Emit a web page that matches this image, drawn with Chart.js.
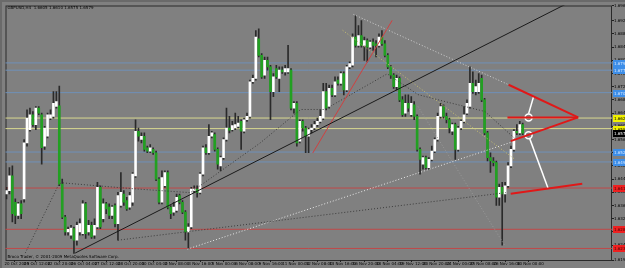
<!DOCTYPE html>
<html>
<head>
<meta charset="utf-8">
<script src="https://cdn.jsdelivr.net/npm/chart.js@4.4.1/dist/chart.umd.min.js"></script>
<style>
  html, body { margin: 0; padding: 0; background: #808080; overflow: hidden; }
  canvas { display: block; }
</style>
</head>
<body>
<canvas id="chart" width="625" height="268"></canvas>
<script>
const symbolTitle = 'GBPUSD,H4';
const copyrightText = 'Broco Trader, \u00a9 2001-2009 MetaQuotes Software Corp.';

// H4 candles, oldest first
const openPrice = [
  1.6395,1.6405,1.6450,1.6370,1.6330,1.6365,1.6380,1.6550,1.6590,1.6635,
  1.6605,1.6655,1.6635,1.6540,1.6570,1.6625,1.6630,1.6660,1.6662,1.6425,
  1.6325,1.6280,1.6270,1.6290,1.6255,1.6280,1.6275,1.6365,1.6280,1.6300,
  1.6270,1.6295,1.6415,1.6320,1.6365,1.6355,1.6330,1.6360,1.6305,1.6360,
  1.6395,1.6375,1.6355,1.6370,1.6450,1.6585,1.6560,1.6570,1.6535,1.6525,
  1.6530,1.6520,1.6440,1.6370,1.6420,1.6460,1.6355,1.6340,1.6345,1.6390,
  1.6370,1.6340,1.6280,1.6295,1.6405,1.6410,1.6400,1.6455,1.6535,1.6520,
  1.6570,1.6575,1.6530,1.6480,1.6505,1.6560,1.6595,1.6590,1.6595,1.6600,
  1.6615,1.6585,1.6620,1.6630,1.6735,1.6745,1.6865,1.6815,1.6755,1.6800,
  1.6780,1.6705,1.6775,1.6745,1.6770,1.6765,1.6765,1.6770,1.6655,1.6670,
  1.6555,1.6615,1.6595,1.6570,1.6590,1.6595,1.6605,1.6615,1.6625,1.6705,
  1.6660,1.6715,1.6695,1.6740,1.6730,1.6760,1.6710,1.6780,1.6785,1.6870,
  1.6845,1.6875,1.6845,1.6860,1.6840,1.6855,1.6850,1.6845,1.6870,1.6850,
  1.6815,1.6780,1.6755,1.6720,1.6745,1.6680,1.6640,1.6670,1.6635,1.6665,
  1.6630,1.6530,1.6485,1.6505,1.6475,1.6500,1.6525,1.6560,1.6630,1.6660,
  1.6630,1.6620,1.6585,1.6605,1.6530,1.6595,1.6615,1.6640,1.6660,1.6730,
  1.6705,1.6705,1.6745,1.6680,1.6580,1.6505,1.6495,1.6490,1.6385,1.6415,
  1.6395,1.6420,1.6480,1.6530,1.6585,1.6580,1.6605
];
const highPrice = [
  1.6415,1.6475,1.6480,1.6380,1.6370,1.6375,1.6560,1.6650,1.6655,1.6645,
  1.6660,1.6660,1.6640,1.6600,1.6640,1.6650,1.6705,1.6705,1.6722,1.6440,
  1.6330,1.6295,1.6300,1.6295,1.6310,1.6320,1.6375,1.6370,1.6315,1.6310,
  1.6320,1.6430,1.6420,1.6380,1.6370,1.6365,1.6360,1.6365,1.6400,1.6460,
  1.6405,1.6385,1.6400,1.6460,1.6620,1.6595,1.6580,1.6580,1.6540,1.6545,
  1.6535,1.6525,1.6445,1.6465,1.6465,1.6465,1.6360,1.6370,1.6395,1.6395,
  1.6375,1.6345,1.6305,1.6415,1.6420,1.6420,1.6460,1.6540,1.6545,1.6605,
  1.6585,1.6580,1.6535,1.6510,1.6565,1.6655,1.6630,1.6615,1.6640,1.6630,
  1.6620,1.6625,1.6640,1.6740,1.6755,1.6890,1.6895,1.6820,1.6810,1.6810,
  1.6785,1.6760,1.6785,1.6780,1.6780,1.6785,1.6845,1.6775,1.6675,1.6675,
  1.6620,1.6620,1.6600,1.6595,1.6605,1.6615,1.6625,1.6650,1.6730,1.6730,
  1.6725,1.6725,1.6750,1.6750,1.6765,1.6765,1.6785,1.6795,1.6880,1.6935,
  1.6905,1.6920,1.6870,1.6865,1.6860,1.6865,1.6860,1.6880,1.6890,1.6860,
  1.6820,1.6785,1.6760,1.6755,1.6750,1.6690,1.6695,1.6695,1.6690,1.6675,
  1.6635,1.6535,1.6510,1.6510,1.6505,1.6540,1.6565,1.6640,1.6670,1.6665,
  1.6640,1.6625,1.6610,1.6610,1.6600,1.6620,1.6660,1.6680,1.6780,1.6765,
  1.6740,1.6760,1.6755,1.6685,1.6585,1.6520,1.6505,1.6495,1.6425,1.6430,
  1.6430,1.6490,1.6540,1.6590,1.6605,1.6615,1.6610
];
const lowPrice = [
  1.6380,1.6395,1.6310,1.6305,1.6320,1.6320,1.6370,1.6540,1.6585,1.6600,
  1.6590,1.6635,1.6485,1.6530,1.6565,1.6620,1.6625,1.6655,1.6420,1.6320,
  1.6270,1.6270,1.6260,1.6215,1.6240,1.6270,1.6270,1.6260,1.6270,1.6260,
  1.6260,1.6290,1.6290,1.6310,1.6335,1.6320,1.6320,1.6295,1.6255,1.6355,
  1.6360,1.6345,1.6348,1.6360,1.6445,1.6555,1.6550,1.6525,1.6520,1.6520,
  1.6515,1.6435,1.6365,1.6365,1.6415,1.6350,1.6320,1.6330,1.6340,1.6365,
  1.6335,1.6255,1.6230,1.6290,1.6400,1.6385,1.6395,1.6450,1.6515,1.6515,
  1.6565,1.6525,1.6470,1.6465,1.6500,1.6555,1.6580,1.6585,1.6590,1.6595,
  1.6530,1.6580,1.6615,1.6625,1.6730,1.6740,1.6810,1.6745,1.6745,1.6770,
  1.6620,1.6690,1.6745,1.6705,1.6760,1.6755,1.6760,1.6650,1.6640,1.6540,
  1.6550,1.6585,1.6520,1.6520,1.6580,1.6590,1.6600,1.6610,1.6620,1.6650,
  1.6655,1.6690,1.6690,1.6725,1.6725,1.6695,1.6705,1.6775,1.6780,1.6840,
  1.6840,1.6840,1.6800,1.6795,1.6835,1.6830,1.6810,1.6840,1.6845,1.6810,
  1.6775,1.6745,1.6715,1.6710,1.6675,1.6630,1.6630,1.6645,1.6630,1.6620,
  1.6525,1.6455,1.6470,1.6470,1.6470,1.6495,1.6520,1.6555,1.6625,1.6625,
  1.6610,1.6580,1.6575,1.6500,1.6525,1.6590,1.6610,1.6635,1.6655,1.6700,
  1.6695,1.6700,1.6675,1.6575,1.6495,1.6460,1.6480,1.6360,1.6360,1.6240,
  1.6370,1.6415,1.6475,1.6525,1.6575,1.6575,1.6575
];
const closePrice = [
  1.6405,1.6450,1.6335,1.6330,1.6365,1.6335,1.6550,1.6625,1.6635,1.6605,
  1.6655,1.6640,1.6535,1.6595,1.6635,1.6635,1.6670,1.6675,1.6425,1.6325,
  1.6280,1.6288,1.6292,1.6255,1.6300,1.6305,1.6365,1.6275,1.6300,1.6265,
  1.6300,1.6415,1.6295,1.6365,1.6350,1.6330,1.6355,1.6305,1.6390,1.6400,
  1.6370,1.6350,1.6390,1.6455,1.6585,1.6570,1.6570,1.6530,1.6525,1.6535,
  1.6520,1.6440,1.6370,1.6445,1.6460,1.6355,1.6335,1.6355,1.6385,1.6370,
  1.6340,1.6280,1.6295,1.6410,1.6410,1.6400,1.6455,1.6535,1.6520,1.6570,
  1.6580,1.6530,1.6485,1.6505,1.6560,1.6595,1.6588,1.6602,1.6605,1.6610,
  1.6585,1.6620,1.6630,1.6735,1.6745,1.6870,1.6815,1.6750,1.6800,1.6780,
  1.6705,1.6750,1.6750,1.6770,1.6765,1.6775,1.6775,1.6655,1.6670,1.6550,
  1.6615,1.6595,1.6570,1.6590,1.6595,1.6605,1.6615,1.6630,1.6705,1.6655,
  1.6715,1.6695,1.6735,1.6730,1.6760,1.6710,1.6780,1.6790,1.6870,1.6845,
  1.6875,1.6845,1.6860,1.6840,1.6855,1.6845,1.6845,1.6870,1.6850,1.6815,
  1.6780,1.6755,1.6720,1.6745,1.6680,1.6635,1.6670,1.6655,1.6670,1.6630,
  1.6530,1.6500,1.6505,1.6475,1.6500,1.6525,1.6560,1.6630,1.6660,1.6630,
  1.6620,1.6595,1.6605,1.6530,1.6595,1.6615,1.6635,1.6670,1.6730,1.6705,
  1.6720,1.6730,1.6680,1.6580,1.6505,1.6495,1.6490,1.6385,1.6415,1.6395,
  1.6420,1.6480,1.6530,1.6585,1.6580,1.6605,1.6579
];

// time axis: bar index of each label and its text
const timeLabelBars = [-0.7, 6, 14, 22, 30, 38, 46, 54, 62, 70, 78, 86, 94, 102, 110, 118, 126, 134, 142, 150, 158, 166, 174];
const timeLabels = ['20 Oct 2009','21 Oct 12:00','22 Oct 20:00','26 Oct 04:00','27 Oct 12:00','28 Oct 20:00',
  '30 Oct 04:00','2 Nov 08:00','3 Nov 16:00','5 Nov 00:00','6 Nov 08:00','9 Nov 16:00','11 Nov 00:00',
  '12 Nov 08:00','13 Nov 16:00','16 Nov 20:00','18 Nov 04:00','19 Nov 12:00','20 Nov 20:00','24 Nov 00:00',
  '25 Nov 08:00','26 Nov 16:00','30 Nov 00:00'];

// horizontal levels
const blueLevels = [1.6792, 1.6770, 1.6702, 1.6522, 1.6492];
const yellowLevels = [1.6625, 1.6593];
const redLevels = [1.6413, 1.6288, 1.6230];

// drawn objects: [barFrom, priceFrom, barTo, priceTo]
const blackTrend = [[23.4, 1.6216, 206.4, 1.7041]];
const whiteDotted = [[61.7, 1.6228, 173.2, 1.6555]];
const darkDotted = [[38, 1.6255, 170.2, 1.6399]];
const redThin = [[104.4, 1.6519, 131.5, 1.6921]];
const lightDotted = [[118.3, 1.6939, 171.2, 1.6726]];
const yellowDotted = [[114.6, 1.6891, 173.2, 1.6501]];
const faintDotted = [[140.3, 1.6660, 169.8, 1.6240]];
const redPitch = [
  [171.2, 1.6726, 194.9, 1.6627],
  [170.8, 1.6627, 194.9, 1.6627],
  [171.9, 1.6555, 194.9, 1.6627],
  [171.9, 1.6396, 196.3, 1.6426]
];
const whiteLinks = [[179.7, 1.6690, 178, 1.6638], [178.3, 1.6565, 184.7, 1.6411]];
const circleBars = [178, 178];
const circlePrices = [1.6627, 1.6573];

// dotted swing line
const swingBars = [6.4, 17.6, 18.6, 43.1, 62.7, 86.4, 100.3, 108.5, 129.8, 140.3, 149.5, 156.3, 163.1, 173.2];
const swingPrices = [1.6216, 1.6420, 1.6429, 1.6411, 1.6399, 1.6549, 1.6651, 1.6651, 1.6759, 1.6696, 1.6675, 1.6660, 1.6645, 1.6564];

const bullColor = '#ffffff';
const bearColor = '#22a022';
const wickColor = '#2a2a2a';

const bars = openPrice.map((_, i) => i);
const isBull = bars.map(i => closePrice[i] >= openPrice[i]);

function segmentSets(list, color, width, dash, order) {
  return list.map(s => ({
    type: 'line',
    data: [{ x: s[0], y: s[1] }, { x: s[2], y: s[3] }],
    borderColor: color,
    borderWidth: width,
    borderDash: dash,
    pointRadius: 0,
    fill: false,
    order
  }));
}

function levelSets(levels, color) {
  return levels.map(p => ({
    type: 'line',
    data: [{ x: -5, y: p }, { x: 215, y: p }],
    borderColor: color,
    borderWidth: 1,
    pointRadius: 0,
    fill: false,
    order: 5
  }));
}

const datasets = [
  ...levelSets(blueLevels, '#6f90b8'),
  ...levelSets(yellowLevels, '#d8d890'),
  ...levelSets(redLevels, '#c04848'),
  {
    type: 'bar',
    data: bars.map(i => ({ x: i, y: [lowPrice[i], highPrice[i]] })),
    backgroundColor: wickColor,
    barThickness: 1,
    grouped: false,
    minBarLength: 1,
    order: 3
  },
  {
    type: 'bar',
    data: bars.map(i => ({ x: i, y: [openPrice[i], closePrice[i]] })),
    backgroundColor: bars.map(i => isBull[i] ? bullColor : bearColor),
    barThickness: 2,
    grouped: false,
    minBarLength: 1,
    order: 2
  },
  {
    type: 'line',
    data: swingBars.map((b, i) => ({ x: b, y: swingPrices[i] })),
    borderColor: '#3c3c3c',
    borderWidth: 1,
    borderDash: [1, 2],
    pointRadius: 0,
    fill: false,
    order: 1
  },
  ...segmentSets(darkDotted, '#3c3c3c', 1, [1, 2], 1),
  ...segmentSets(faintDotted, '#9a9a9a', 1, [1, 2], 1),
  ...segmentSets(whiteDotted, '#e8e8e8', 1, [1, 2], 1),
  ...segmentSets(lightDotted, '#d0d0d0', 1, [1, 2], 1),
  ...segmentSets(yellowDotted, '#c8c070', 1, [1, 2], 1),
  ...segmentSets(blackTrend, '#1a1a1a', 1, [], 0),
  ...segmentSets(redThin, '#d04040', 1, [], 0),
  ...segmentSets(redPitch, '#e01818', 2, [], 0),
  ...segmentSets(whiteLinks, '#ffffff', 1.5, [], 0),
  {
    type: 'scatter',
    data: circleBars.map((b, i) => ({ x: b, y: circlePrices[i] })),
    pointStyle: 'circle',
    pointRadius: 3.5,
    pointBorderWidth: 1.5,
    pointBorderColor: '#ffffff',
    pointBackgroundColor: 'rgba(0,0,0,0)',
    order: 0
  }
];

const mtFrame = {
  id: 'mtFrame',
  beforeDraw(chart) {
    const c = chart.ctx;
    const a = chart.chartArea;
    c.save();
    c.fillStyle = '#808080';
    c.fillRect(0, 0, chart.width, chart.height);
    c.fillStyle = '#6a6a6a';
    c.fillRect(0, 0, chart.width, 2);
    c.fillRect(0, 0, 2, chart.height);
    c.strokeStyle = '#2a2a2a';
    c.lineWidth = 1;
    c.strokeRect(a.left + 0.5, a.top + 0.5, a.right - a.left - 1, a.bottom - a.top);
    c.restore();
  },
  afterDraw(chart) {
    const c = chart.ctx;
    const a = chart.chartArea;
    const y = chart.scales.y;
    c.save();
    c.font = '4px "DejaVu Sans"';
    c.textBaseline = 'middle';
    c.textAlign = 'left';
    const tag = (p, fill, ink) => {
      const py = Math.round(y.getPixelForValue(p));
      c.fillStyle = fill;
      c.fillRect(a.right + 1, py - 3, chart.width - a.right - 1, 7);
      c.fillStyle = ink;
      c.fillText(p.toFixed(4), a.right + 2, py + 0.5);
    };
    blueLevels.forEach(p => tag(p, '#3d8ee8', '#d8e8ff'));
    yellowLevels.forEach(p => tag(p, '#f0f000', '#000000'));
    redLevels.forEach(p => tag(p, '#ee2020', '#400000'));
    const last = closePrice.length - 1;
    tag(closePrice[last], '#000000', '#ffffff');

    c.fillStyle = '#000000';
    c.textBaseline = 'top';
    c.fillText(`${symbolTitle}  ${openPrice[last].toFixed(4)} ${highPrice[last].toFixed(4)} ${lowPrice[last].toFixed(4)} ${closePrice[last].toFixed(4)}`, a.left + 2, a.top);
    c.textBaseline = 'bottom';
    c.fillText(copyrightText, a.left + 2, a.bottom - 1);
    c.restore();
  }
};

new Chart(document.getElementById('chart'), {
  type: 'bar',
  data: { datasets },
  plugins: [mtFrame],
  options: {
    responsive: false,
    animation: false,
    layout: { padding: { top: 3, left: 2, right: 0, bottom: 0 } },
    plugins: { legend: { display: false }, tooltip: { enabled: false } },
    scales: {
      x: {
        type: 'linear',
        min: -0.34,
        max: 206.44,
        offset: false,
        grid: { display: true, drawOnChartArea: false, drawTicks: true, tickLength: 2, color: '#202020' },
        border: { display: false },
        afterBuildTicks: s => { s.ticks = timeLabelBars.map(v => ({ value: v })); },
        afterFit: s => { s.height = 8; },
        ticks: {
          autoSkip: false,
          maxRotation: 0,
          align: 'start',
          padding: 0,
          color: '#000000',
          font: { size: 4, family: 'DejaVu Sans' },
          callback: (v, i) => timeLabels[i]
        }
      },
      y: {
        position: 'right',
        min: 1.6195,
        max: 1.6966,
        grid: { display: true, drawOnChartArea: false, drawTicks: true, tickLength: 2, color: '#202020' },
        border: { display: false },
        afterFit: s => { s.width = 13; },
        ticks: {
          stepSize: 0.004,
          padding: 0,
          color: '#000000',
          font: { size: 4, family: 'DejaVu Sans' },
          callback: v => Number(v).toFixed(4)
        }
      }
    }
  }
});
</script>
</body>
</html>
